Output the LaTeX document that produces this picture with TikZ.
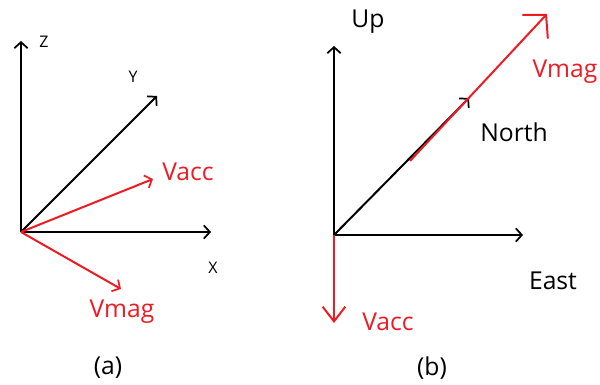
\documentclass[tikz,border=0pt]{standalone}
\usepackage{fontspec}
\setmainfont{Open Sans}
\usetikzlibrary{arrows.meta}
\definecolor{pred}{RGB}{237,28,36}
\tikzset{
  axis/.style={line width=1.5pt, -{Straight Barb[length=4.5pt,width=10pt,line width=1.3pt]}},
  redvec/.style={pred, line width=1.5pt, -{Straight Barb[length=4.5pt,width=10pt,line width=1.3pt]}},
  bigred/.style={pred, line width=1.5pt, -{Straight Barb[length=12pt,width=26pt,line width=1.5pt]}},
  midred/.style={pred, line width=1.5pt, -{Straight Barb[length=11pt,width=17pt,line width=1.5pt]}},
  small/.style={font=\fontsize{12pt}{14pt}\selectfont, inner sep=0pt},
  big/.style={font=\fontsize{18.5pt}{22pt}\selectfont, inner sep=0pt},
  bigred lbl/.style={big, text=pred}
}
\begin{document}
\begin{tikzpicture}[x=0.75pt,y=-0.75pt]
\useasboundingbox (0,0) rectangle (600,385);
% panel (a)
\coordinate (oa) at (21,232);
\coordinate (za) at (21,41);
\coordinate (ya) at (157,96);
\coordinate (xa) at (211,232);
\coordinate (va) at (153,179);
\coordinate (ma) at (121,289);
\draw[axis] (oa) -- (za);
\draw[axis] (oa) -- (ya);
\draw[axis] (oa) -- (xa);
\draw[redvec] (oa) -- (va);
\draw[redvec] (oa) -- (ma);
\node[small] (lz) at (44,42) {Z};
\node[small] (ly) at (133,77) {Y};
\node[small] (lx) at (213,268) {X};
\node[bigred lbl] (lva) at (188,172) {Vacc};
\node[bigred lbl] (lma) at (122,312) {Vmag};
\node[big] (la) at (108,368) {(a)};
% panel (b)
\coordinate (ob) at (334,235);
\coordinate (ub) at (334,46);
\coordinate (eb) at (523,235);
\coordinate (nb) at (469,98);
\coordinate (sb) at (410,161);
\coordinate (mb) at (547,14);
\coordinate (vb) at (334,323);
\draw[axis] (ob) -- (ub);
\draw[axis] (ob) -- (eb);
\draw[axis] (ob) -- (nb);
\draw[bigred] (sb) -- (mb);
\draw[midred] (ob) -- (vb);
\node[big] (lu) at (368,22) {Up};
\node[big] (ln) at (514,132) {North};
\node[big] (le) at (553,281) {East};
\node[bigred lbl] (lmb) at (565,72) {Vmag};
\node[bigred lbl] (lvb) at (388,322) {Vacc};
\node[big] (lb) at (432,368) {(b)};
\end{tikzpicture}
\end{document}
